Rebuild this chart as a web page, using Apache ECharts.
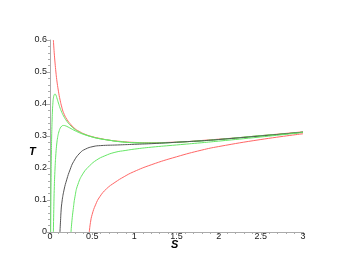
<!DOCTYPE html>
<html><head><meta charset="utf-8">
<script src="https://cdn.jsdelivr.net/npm/echarts@6/dist/echarts.min.js"></script>
<style>html,body{margin:0;padding:0;background:#fff}#c{width:352px;height:272px}</style>
</head><body><div id="c"></div>
<script>
const xTicks = [0, 0.5, 1, 1.5, 2, 2.5, 3];
const yTicks = [0, 0.1, 0.2, 0.3, 0.4, 0.5, 0.6];
const redUpper = [[0.04,0.600],[0.05,0.560],[0.06,0.528],[0.07,0.500],[0.08,0.476],[0.10,0.440],[0.12,0.412],[0.14,0.390],[0.16,0.373],[0.20,0.352],[0.25,0.335],[0.30,0.322],[0.35,0.314],[0.40,0.307],[0.50,0.298],[0.60,0.292],[0.70,0.287],[0.80,0.284],[1.00,0.280],[1.20,0.279],[1.40,0.280],[1.60,0.282],[1.80,0.286],[2.00,0.290],[2.25,0.295],[2.50,0.301],[2.75,0.307],[3.00,0.313]];
const greenPeakHigh = [[0.008,0.000],[0.010,0.080],[0.013,0.170],[0.016,0.240],[0.020,0.300],[0.025,0.350],[0.030,0.385],[0.035,0.405],[0.040,0.418],[0.050,0.429],[0.060,0.431],[0.070,0.428],[0.080,0.420],[0.100,0.403],[0.120,0.387],[0.140,0.374],[0.160,0.363],[0.200,0.346],[0.250,0.331],[0.300,0.320],[0.350,0.312],[0.400,0.306],[0.50,0.297],[0.60,0.291],[0.70,0.287],[0.80,0.283],[1.00,0.279],[1.20,0.278],[1.40,0.279],[1.60,0.282],[1.80,0.285],[2.00,0.289],[2.25,0.295],[2.50,0.301],[2.75,0.306],[3.00,0.312]];
const greenPeakLow = [[0.040,0.000],[0.045,0.070],[0.050,0.130],[0.060,0.200],[0.070,0.245],[0.080,0.275],[0.090,0.295],[0.100,0.308],[0.110,0.317],[0.120,0.324],[0.140,0.331],[0.160,0.333],[0.180,0.332],[0.200,0.330],[0.250,0.323],[0.300,0.316],[0.350,0.310],[0.400,0.305],[0.50,0.297],[0.60,0.291],[0.70,0.287],[0.80,0.283],[1.00,0.279],[1.20,0.278],[1.40,0.279],[1.60,0.282],[1.80,0.285],[2.00,0.289],[2.25,0.295],[2.50,0.301],[2.75,0.306],[3.00,0.312]];
const blackCritical = [[0.118,0.000],[0.125,0.035],[0.130,0.060],[0.140,0.090],[0.166,0.131],[0.200,0.165],[0.237,0.194],[0.280,0.220],[0.355,0.247],[0.420,0.259],[0.510,0.267],[0.600,0.270],[0.800,0.272],[1.000,0.274],[1.200,0.276],[1.400,0.279],[1.600,0.282],[1.800,0.285],[2.000,0.289],[2.500,0.300],[3.000,0.312]];
const greenLower = [[0.249,0.000],[0.260,0.035],[0.275,0.070],[0.296,0.110],[0.330,0.148],[0.395,0.184],[0.470,0.207],[0.553,0.225],[0.650,0.238],[0.770,0.249],[0.900,0.255],[1.000,0.259],[1.200,0.265],[1.500,0.272],[1.800,0.279],[2.000,0.284],[2.500,0.297],[3.000,0.311]];
const redLower = [[0.466,0.000],[0.480,0.030],[0.500,0.055],[0.540,0.085],[0.590,0.110],[0.670,0.135],[0.770,0.155],[0.880,0.173],[0.990,0.188],[1.200,0.210],[1.500,0.235],[1.800,0.256],[2.000,0.267],[2.500,0.289],[3.000,0.307]];

const RED = '#ff6666', GREEN = '#66e666', BLACK = '#555555';
function line(data, color) {
  return { type: 'line', data: data, showSymbol: false, smooth: true, clip: true,
    lineStyle: { color: color, width: 1 }, emphasis: { disabled: true }, z: 3 };
}
const axisCommon = {
  axisLine: { show: true, onZero: false, lineStyle: { color: '#aaaaaa', width: 1 } },
  axisTick: { show: true, length: 3, lineStyle: { color: '#aaaaaa' } },
  minorTick: { show: true, splitNumber: 5, length: 2, lineStyle: { color: '#aaaaaa' } },
  splitLine: { show: false },
  axisLabel: { color: '#222', fontSize: 9, fontFamily: 'Liberation Sans, Arial, sans-serif', margin: 3 }
};
const labelFont = 'italic bold 11px Liberation Sans, Arial, sans-serif';
const chart = echarts.init(document.getElementById('c'), null, { renderer: 'canvas' });
chart.setOption({
  animation: false,
  backgroundColor: '#ffffff',
  grid: { left: 50, right: 49, top: 40, bottom: 40 },
  xAxis: Object.assign({}, axisCommon, {
    type: 'value', min: xTicks[0], max: xTicks[xTicks.length - 1], interval: 0.5,
    axisLabel: Object.assign({}, axisCommon.axisLabel, { margin: 0, formatter: v => String(v) })
  }),
  yAxis: Object.assign({}, axisCommon, {
    type: 'value', min: yTicks[0], max: yTicks[yTicks.length - 1], interval: 0.1,
    axisLabel: Object.assign({}, axisCommon.axisLabel, { formatter: v => String(Math.round(v * 10) / 10) })
  }),
  graphic: [
    { type: 'text', left: 29, top: 146, style: { text: 'T', font: labelFont, fill: '#000' } },
    { type: 'text', left: 171, top: 239, style: { text: 'S', font: labelFont, fill: '#000' } }
  ],
  series: [
    line(redUpper, RED), line(greenPeakHigh, GREEN), line(greenPeakLow, GREEN),
    line(blackCritical, BLACK), line(greenLower, GREEN), line(redLower, RED)
  ]
});
</script></body></html>
